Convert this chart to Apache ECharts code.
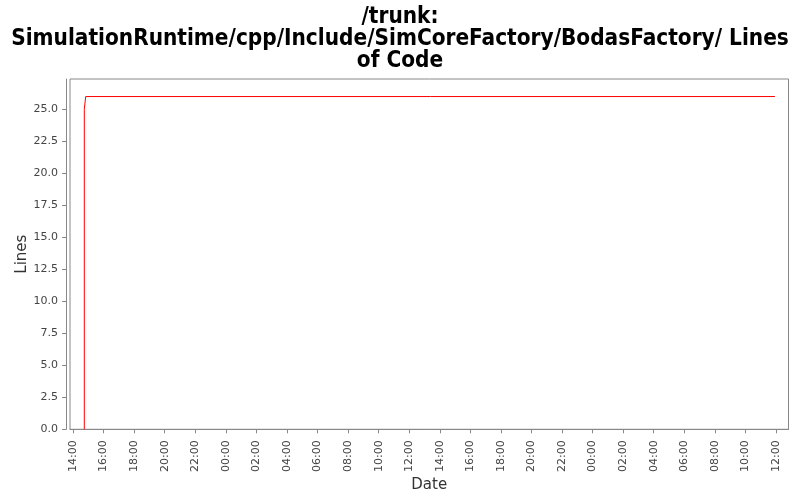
<!DOCTYPE html>
<html>
<head>
<meta charset="utf-8">
<script src="https://cdn.jsdelivr.net/npm/echarts@6/dist/echarts.min.js"></script>
<style>html,body{margin:0;padding:0;background:#fff}#c{width:800px;height:500px}</style>
</head>
<body>
<div id="c"></div>
<script>
// hours counted from midnight of the first day
var timeHours = [14.74, 14.74, 14.83, 59.93];
var linesValues = [0, 25, 26, 26];
var xTickHours = [14,16,18,20,22,24,26,28,30,32,34,36,38,40,42,44,46,48,50,52,54,56,58,60];
var xTickLabels = ['14:00','16:00','18:00','20:00','22:00','00:00','02:00','04:00','06:00','08:00','10:00','12:00','14:00','16:00','18:00','20:00','22:00','00:00','02:00','04:00','06:00','08:00','10:00','12:00'];
var yTickValues = [0,2.5,5,7.5,10,12.5,15,17.5,20,22.5,25];
var yTickLabels = ['0.0','2.5','5.0','7.5','10.0','12.5','15.0','17.5','20.0','22.5','25.0'];

var chart = echarts.init(document.getElementById('c'), null, {renderer:'canvas'});
var data = timeHours.map(function(t,i){return [t, linesValues[i]];});
chart.setOption({
  animation:false,
  backgroundColor:'#fff',
  title:{
    text:'/trunk:\nSimulationRuntime/cpp/Include/SimCoreFactory/BodasFactory/ Lines\nof Code',
    left:'center', top:1,
    textStyle:{fontFamily:'DejaVu Sans Condensed, DejaVu Sans', fontWeight:'bold', fontSize:22.4, lineHeight:22, color:'#000'}
  },
  grid:{left:70, right:11.5, top:79, bottom:70.7, show:true, borderColor:'#888', borderWidth:1, backgroundColor:'#fff'},
  xAxis:{
    type:'value', min:13.804, max:60.818, offset:3,
    name:'Date', nameLocation:'middle', nameGap:45, nameMoveOverlap:false,
    nameTextStyle:{fontFamily:'DejaVu Sans', fontSize:15, color:'#333'},
    axisLine:{show:true, lineStyle:{color:'#888'}},
    axisTick:{show:true, length:4, lineStyle:{color:'#888'}, customValues:xTickHours},
    axisLabel:{rotate:90, margin:8, fontFamily:'DejaVu Sans', fontSize:11, color:'#444',
      customValues:xTickHours,
      formatter:function(v){var i=xTickHours.indexOf(Math.round(v)); return i>=0?xTickLabels[i]:'';}},
    splitLine:{show:false}
  },
  yAxis:{
    type:'value', min:0, max:27.37, offset:4,
    name:'Lines', nameLocation:'middle', nameGap:36, nameMoveOverlap:false,
    nameTextStyle:{fontFamily:'DejaVu Sans', fontSize:15, color:'#333'},
    axisLine:{show:true, lineStyle:{color:'#888'}},
    axisTick:{show:true, length:4, lineStyle:{color:'#888'}, customValues:yTickValues},
    axisLabel:{margin:8, fontFamily:'DejaVu Sans', fontSize:11, color:'#444',
      customValues:yTickValues,
      formatter:function(v){var i=yTickValues.indexOf(v); return i>=0?yTickLabels[i]:'';}},
    splitLine:{show:false}
  },
  series:[{
    type:'line', step:'end', data:data, showSymbol:false, symbol:'none',
    lineStyle:{color:'#ff0000', width:1}, clip:true
  }]
});
</script>
</body>
</html>
